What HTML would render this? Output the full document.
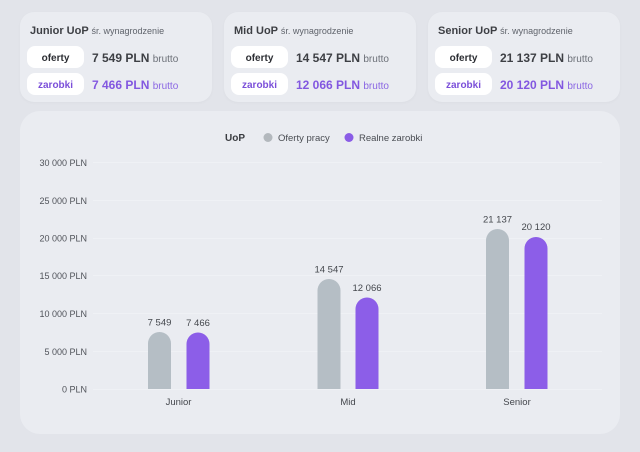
<!DOCTYPE html>
<html><head><meta charset="utf-8"><style>
html,body{margin:0;padding:0;}
body{width:640px;height:452px;background:#e2e4ea;position:relative;overflow:hidden;font-family:"Liberation Sans",sans-serif;}
.card{position:absolute;top:12px;width:192px;height:90px;background:#eaecf1;border-radius:14px;box-shadow:0 1px 3px rgba(0,0,0,0.03);}
.title{position:absolute;left:10px;top:14px;font-size:11px;font-weight:bold;color:#3d3f44;white-space:nowrap;line-height:1;}
.title span{font-weight:normal;font-size:9px;color:#5f636b;}
.pill{position:absolute;left:7px;width:57px;height:22px;background:#fff;border-radius:8px;text-align:center;line-height:25px;font-size:10px;font-weight:bold;color:#2c2e33;}
.pill.z{color:#7b4fd9;}
.val{position:absolute;left:72px;font-size:12px;font-weight:bold;color:#3d3f44;white-space:nowrap;line-height:1;}
.val span{font-weight:normal;font-size:10px;color:#6b6f77;}
.val.z{color:#8257e0;}
.val.z span{color:#8a66e3;}
.main{position:absolute;left:20px;top:111px;width:600px;height:323px;background:#eaecf1;border-radius:20px;}
svg{position:absolute;left:0;top:0;}
</style></head><body>

<div class="card" style="left:20px">
  <div class="title">Junior UoP <span>śr. wynagrodzenie</span></div>
  <div class="pill" style="top:34px">oferty</div>
  <div class="pill z" style="top:61px">zarobki</div>
  <div class="val" style="top:40px">7 549 PLN <span>brutto</span></div>
  <div class="val z" style="top:67px">7 466 PLN <span>brutto</span></div>
</div>
<div class="card" style="left:224px">
  <div class="title">Mid UoP <span>śr. wynagrodzenie</span></div>
  <div class="pill" style="top:34px">oferty</div>
  <div class="pill z" style="top:61px">zarobki</div>
  <div class="val" style="top:40px">14 547 PLN <span>brutto</span></div>
  <div class="val z" style="top:67px">12 066 PLN <span>brutto</span></div>
</div>
<div class="card" style="left:428px">
  <div class="title">Senior UoP <span>śr. wynagrodzenie</span></div>
  <div class="pill" style="top:34px">oferty</div>
  <div class="pill z" style="top:61px">zarobki</div>
  <div class="val" style="top:40px">21 137 PLN <span>brutto</span></div>
  <div class="val z" style="top:67px">20 120 PLN <span>brutto</span></div>
</div>

<div class="main"></div>

<svg width="640" height="452" viewBox="0 0 640 452" font-family="Liberation Sans, sans-serif">
  <g stroke="#eff1f5" stroke-width="1">
    <line x1="93" y1="162.5" x2="602" y2="162.5"/>
    <line x1="93" y1="200.5" x2="602" y2="200.5"/>
    <line x1="93" y1="238.5" x2="602" y2="238.5"/>
    <line x1="93" y1="275.5" x2="602" y2="275.5"/>
    <line x1="93" y1="313.5" x2="602" y2="313.5"/>
    <line x1="93" y1="351.5" x2="602" y2="351.5"/>
    <line x1="93" y1="389.5" x2="602" y2="389.5"/>
  </g>
  <text x="225" y="141" font-size="10" font-weight="bold" fill="#3a3c41">UoP</text>
  <circle cx="268" cy="137.5" r="4.5" fill="#b3b8bd"/>
  <text x="278" y="141" font-size="9.5" fill="#4a4d53">Oferty pracy</text>
  <circle cx="349" cy="137.5" r="4.5" fill="#8a5ce6"/>
  <text x="359" y="141" font-size="9.5" fill="#4a4d53">Realne zarobki</text>
  <g font-size="9" fill="#50535a" text-anchor="end">
    <text x="87" y="166">30 000 PLN</text>
    <text x="87" y="204">25 000 PLN</text>
    <text x="87" y="241.5">20 000 PLN</text>
    <text x="87" y="279">15 000 PLN</text>
    <text x="87" y="317">10 000 PLN</text>
    <text x="87" y="355">5 000 PLN</text>
    <text x="87" y="392.5">0 PLN</text>
  </g>
  <g>
    <path d="M148 389 V343.5 A11.5 11.5 0 0 1 171 343.5 V389 Z" fill="#b5bec5"/>
    <path d="M186.5 389 V344 A11.5 11.5 0 0 1 209.5 344 V389 Z" fill="#8c5ee8"/>
    <path d="M317.5 389 V290.5 A11.5 11.5 0 0 1 340.5 290.5 V389 Z" fill="#b5bec5"/>
    <path d="M355.5 389 V309 A11.5 11.5 0 0 1 378.5 309 V389 Z" fill="#8c5ee8"/>
    <path d="M486 389 V240.5 A11.5 11.5 0 0 1 509 240.5 V389 Z" fill="#b5bec5"/>
    <path d="M524.5 389 V248.5 A11.5 11.5 0 0 1 547.5 248.5 V389 Z" fill="#8c5ee8"/>
  </g>
  <g font-size="9.5" fill="#44474d" text-anchor="middle">
    <text x="159.5" y="325.5">7 549</text>
    <text x="198" y="326">7 466</text>
    <text x="329" y="272.5">14 547</text>
    <text x="367" y="291">12 066</text>
    <text x="497.5" y="222.5">21 137</text>
    <text x="536" y="230">20 120</text>
  </g>
  <g font-size="9.5" fill="#44474d" text-anchor="middle">
    <text x="178.5" y="405">Junior</text>
    <text x="348" y="405">Mid</text>
    <text x="517" y="405">Senior</text>
  </g>
</svg>
</body></html>
